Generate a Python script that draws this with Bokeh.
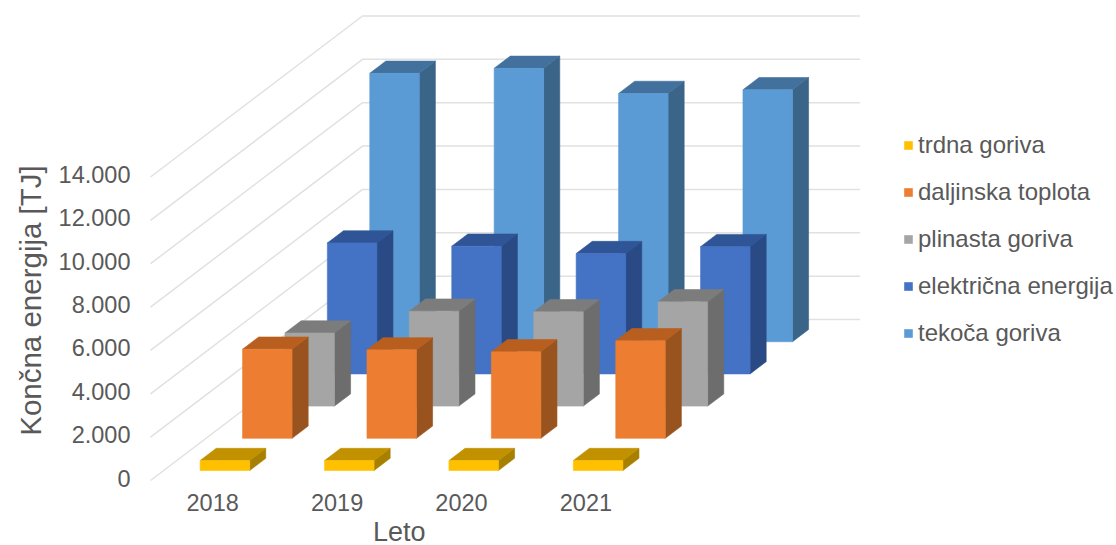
from bokeh.embed import file_html
from bokeh.models import FixedTicker, Label, Legend, LegendItem, Range1d
from bokeh.plotting import figure
from bokeh.resources import INLINE

# Final energy use by fuel, in TJ
years = ["2018", "2019", "2020", "2021"]
trdna_goriva = [460, 460, 460, 460]
daljinska_toplota = [4110, 4080, 3990, 4500]
plinasta_goriva = [3370, 4380, 4350, 4810]
elektricna_energija = [6040, 5890, 5550, 5870]
tekoca_goriva = [12380, 12610, 11450, 11620]

value_ticks = [0, 2000, 4000, 6000, 8000, 10000, 12000, 14000]
value_tick_labels = ["0", "2.000", "4.000", "6.000", "8.000", "10.000", "12.000", "14.000"]

series = [
    ("trdna goriva", trdna_goriva, "#FFC000", "#C29100", "#A88000"),
    ("daljinska toplota", daljinska_toplota, "#ED7D31", "#B85F20", "#99531F"),
    ("plinasta goriva", plinasta_goriva, "#A5A5A5", "#7C7C7C", "#6D6D6D"),
    ("električna energija", elektricna_energija, "#4472C4", "#2F5597", "#2A4A85"),
    ("tekoča goriva", tekoca_goriva, "#5B9BD5", "#41719C", "#3A6488"),
]

# Canvas layout, in pixels
WIDTH, HEIGHT = 1116, 545
ORIGIN_X, ORIGIN_Y = 150, 480
PX_PER_CATEGORY = 124.4
PX_PER_TJ = 0.02168

# Oblique projection: one series row of depth shifts a point right and up
DEPTH_X = 42.4 / PX_PER_CATEGORY
DEPTH_V = 32.2 / PX_PER_TJ
BAR_LEFT, BAR_RIGHT = 0.2935, 0.6915
ROW_FRONT, ROW_BACK = 0.31, 0.69


def project(t, v, depth):
    return t + depth * DEPTH_X, v + depth * DEPTH_V


def face(corners):
    pts = [project(*c) for c in corners]
    return [q[0] for q in pts], [q[1] for q in pts]


def px_x(px):
    return (px - ORIGIN_X) / PX_PER_CATEGORY


def px_y(px):
    return (ORIGIN_Y - px) / PX_PER_TJ


TEXT = "#595959"
FONT = "Liberation Sans"

p = figure(
    width=WIDTH, height=HEIGHT, output_backend="svg", toolbar_location=None,
    x_range=Range1d(px_x(0), px_x(WIDTH)),
    y_range=Range1d(px_y(HEIGHT), px_y(0)),
    min_border=0,
)
p.outline_line_color = None
p.grid.visible = False

# Tick labels sit slightly above the gridline they name
p.extra_y_ranges = {"tick_labels": Range1d(px_y(HEIGHT + 2.5), px_y(2.5))}

# Axes lie on the front floor edge and the front edge of the side wall
p.xaxis.fixed_location = px_y(487)
p.yaxis.fixed_location = 0
p.yaxis.y_range_name = "tick_labels"
p.xaxis.ticker = FixedTicker(ticks=[i + 0.5 for i in range(len(years))])
p.xaxis.major_label_overrides = {i + 0.5: y for i, y in enumerate(years)}
p.yaxis.ticker = FixedTicker(ticks=value_ticks)
p.yaxis.major_label_overrides = dict(zip(value_ticks, value_tick_labels))
for axis in (p.xaxis, p.yaxis):
    axis.axis_line_color = None
    axis.major_tick_line_color = None
    axis.minor_tick_line_color = None
    axis.major_label_text_color = TEXT
    axis.major_label_text_font = FONT
    axis.major_label_text_font_size = "23.5px"
p.xaxis.major_label_standoff = 0
p.yaxis.major_label_standoff = 14

# Gridlines run back along the side wall, then across the back wall
n_rows = len(series)
n_years = len(years)
wall_xs, wall_ys = [], []
for v in value_ticks:
    xs, ys = face([(0, v, 0), (0, v, n_rows), (n_years, v, n_rows)])
    wall_xs.append(xs)
    wall_ys.append(ys)
p.multi_line(wall_xs, wall_ys, line_color="#E1E1E1", line_width=1.5)

# Bars are painted from the back row to the front row
legend_items = []
for row in reversed(range(n_rows)):
    name, values, front_color, top_color, side_color = series[row]
    front, side, top = ([], []), ([], []), ([], [])
    d0, d1 = row + ROW_FRONT, row + ROW_BACK
    for j, v in enumerate(values):
        l, r = j + BAR_LEFT, j + BAR_RIGHT
        for target, corners in (
            (front, [(l, 0, d0), (r, 0, d0), (r, v, d0), (l, v, d0)]),
            (side, [(r, 0, d0), (r, 0, d1), (r, v, d1), (r, v, d0)]),
            (top, [(l, v, d0), (r, v, d0), (r, v, d1), (l, v, d1)]),
        ):
            xs, ys = face(corners)
            target[0].append(xs)
            target[1].append(ys)
    p.patches(*side, fill_color=side_color, line_color=side_color, line_width=0.6)
    p.patches(*top, fill_color=top_color, line_color=top_color, line_width=0.6)
    front_renderer = p.patches(*front, fill_color=front_color, line_color=front_color, line_width=0.6)
    legend_items.insert(0, LegendItem(label=name, renderers=[front_renderer]))

legend = Legend(
    items=legend_items, location=(903, 198), orientation="vertical",
    background_fill_alpha=0, border_line_color=None,
    glyph_width=10, glyph_height=10, label_standoff=5, spacing=19,
    margin=0, padding=0, label_text_font=FONT, label_text_font_size="24px",
    label_text_color=TEXT, label_height=27,
)
p.add_layout(legend)

p.add_layout(Label(
    x=n_years / 2, y=px_y(531), text="Leto",
    text_align="center", text_baseline="middle", text_color=TEXT,
    text_font=FONT, text_font_size="27px",
))
p.add_layout(Label(
    x=px_x(30), y=px_y(300), text="Končna energija [TJ]",
    angle=90, angle_units="deg", text_align="center", text_baseline="middle",
    text_color=TEXT, text_font=FONT, text_font_size="29.5px",
))

open("out.html", "w").write(file_html(p, INLINE))
